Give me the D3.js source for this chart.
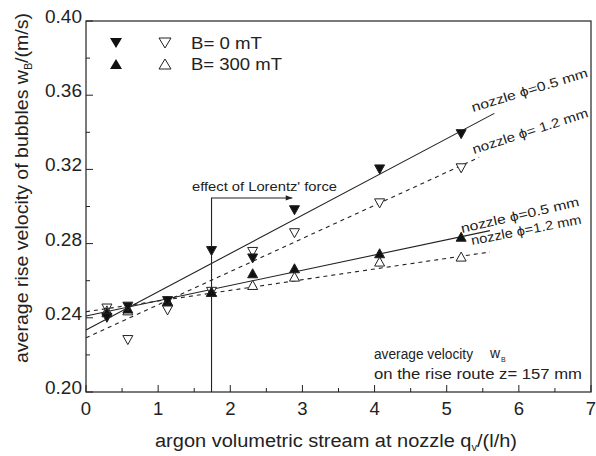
<!DOCTYPE html>
<html><head><meta charset="utf-8">
<script src="https://cdn.jsdelivr.net/npm/d3@7"></script>
<style>body{margin:0;background:#fff}svg text{font-family:"Liberation Sans",Arial,sans-serif;fill:#222}</style>
</head><body><svg id="c" width="596" height="456"></svg>
<script>
// ---- data ----
const flowX = [0.29, 0.58, 1.13, 1.74, 2.31, 2.89, 4.07, 5.20];           // argon stream q_v (l/h)
const vB0_05 = [0.240, 0.246, 0.249, 0.276, 0.272, 0.298, 0.320, 0.339];   // ▼ B=0 mT, nozzle 0.5 mm
const vB0_12 = [0.245, 0.228, 0.244, 0.254, 0.2755, 0.2856, 0.3017, 0.3206]; // ▽ B=0 mT, nozzle 1.2 mm
const vB300_05 = [0.243, 0.245, 0.249, 0.254, 0.264, 0.2667, 0.2748, 0.2837]; // ▲ B=300 mT, nozzle 0.5 mm
const vB300_12 = [0.244, 0.244, 0.249, 0.254, 0.2577, 0.2622, 0.2703, 0.2730]; // △ B=300 mT, nozzle 1.2 mm
// fitted lines: [x start, v start, x end, v end]
const fitB0_05 = [0, 0.2334, 5.66, 0.3502];
const fitB0_12 = [0, 0.2292, 5.45, 0.3265];
const fitB300_05 = [0, 0.2410, 5.60, 0.2870];
const fitB300_12 = [0, 0.2433, 5.60, 0.2755];
const xTicks = [0,1,2,3,4,5,6,7];
const yTicks = [0.20,0.24,0.28,0.32,0.36,0.40];
const lorentzX = 1.74, lorentzTopV = 0.3046, lorentzArrowX = 2.86;

// ---- scales ----
const svg = d3.select("#c");
const x = d3.scaleLinear().domain([0,7]).range([86,591]);
const y = d3.scaleLinear().domain([0.20,0.40]).range([392,21]);

// frame
svg.append("rect").attr("x",86).attr("y",21).attr("width",505).attr("height",371)
  .attr("fill","none").attr("stroke","#222").attr("stroke-width",1.2);

// axes (inward ticks)
const gx = svg.append("g");
xTicks.forEach(t=>{
  gx.append("line").attr("x1",x(t)).attr("x2",x(t)).attr("y1",392).attr("y2",385).attr("stroke","#222");
  gx.append("text").attr("x",x(t)).attr("y",415).attr("text-anchor","middle").attr("font-size",18.5).text(t);
});
d3.range(0.5,7,1).forEach(t=>{
  gx.append("line").attr("x1",x(t)).attr("x2",x(t)).attr("y1",392).attr("y2",388).attr("stroke","#222");
});
const gy = svg.append("g");
yTicks.forEach(t=>{
  gy.append("line").attr("x1",86).attr("x2",93).attr("y1",y(t)).attr("y2",y(t)).attr("stroke","#222");
  gy.append("text").attr("x",82).attr("y",y(t)+2).attr("text-anchor","end").attr("font-size",19).text(t.toFixed(2));
});
[0.22,0.26,0.30,0.34,0.38].forEach(t=>{
  gy.append("line").attr("x1",86).attr("x2",90).attr("y1",y(t)).attr("y2",y(t)).attr("stroke","#222");
});

// axis titles
const xt = svg.append("text").attr("x",155).attr("y",447).attr("font-size",18)
  .attr("textLength",362).attr("lengthAdjust","spacingAndGlyphs");
xt.append("tspan").text("argon volumetric stream at nozzle q");
xt.append("tspan").attr("font-size",10).attr("dy",4).text("v");
xt.append("tspan").attr("dy",-4).text("/(l/h)");
const yt = svg.append("text").attr("transform","translate(28,363) rotate(-90)").attr("font-size",18)
  .attr("textLength",350).attr("lengthAdjust","spacingAndGlyphs");
yt.append("tspan").text("average rise velocity of bubbles w");
yt.append("tspan").attr("font-size",10).attr("dy",4).text("B");
yt.append("tspan").attr("dy",-4).text("/(m/s)");

// fit lines
const fits = [[fitB0_05,null],[fitB0_12,"4,4"],[fitB300_05,null],[fitB300_12,"4,4"]];
fits.forEach(([f,d])=>{
  svg.append("line").attr("x1",x(f[0])).attr("y1",y(f[1])).attr("x2",x(f[2])).attr("y2",y(f[3]))
    .attr("stroke","#222").attr("stroke-width",1.1).attr("stroke-dasharray",d);
});

// Lorentz annotation
svg.append("defs").append("marker").attr("id","ah").attr("viewBox","0 0 10 10").attr("refX",10).attr("refY",5)
  .attr("markerWidth",8).attr("markerHeight",6).attr("orient","auto")
  .append("path").attr("d","M0,1L10,5L0,9Z").attr("fill","#222");
svg.append("path").attr("d",`M${x(lorentzX)},${y(0.20)}V${y(lorentzTopV)}H${x(lorentzArrowX)}`)
  .attr("fill","none").attr("stroke","#222").attr("stroke-width",1.1).attr("marker-end","url(#ah)");
svg.append("text").attr("x",192).attr("y",191).attr("font-size",13)
  .attr("textLength",145).attr("lengthAdjust","spacingAndGlyphs").text("effect of Lorentz' force");

// markers
function tri(cx,cy,w,h,down){
  return down ? `M${cx-w/2},${cy-h/2}L${cx+w/2},${cy-h/2}L${cx},${cy+h/2}Z`
              : `M${cx-w/2},${cy+h/2}L${cx+w/2},${cy+h/2}L${cx},${cy-h/2}Z`;
}
const series = [[vB0_12,true,false],[vB300_12,false,false],[vB300_05,false,true],[vB0_05,true,true]];
series.forEach(([vals,down,filled])=>{
  svg.append("g").selectAll("path").data(vals).join("path")
    .attr("d",(v,i)=>tri(x(flowX[i]),y(v),10,9,down))
    .attr("fill",filled?"#111":"#fff").attr("stroke","#222").attr("stroke-width",1);
});

// legend
svg.append("path").attr("d",tri(116,43,12,10,true)).attr("fill","#111");
svg.append("path").attr("d",tri(165,43,12,10,true)).attr("fill","#fff").attr("stroke","#222");
svg.append("text").attr("x",191).attr("y",49).attr("font-size",16)
  .attr("textLength",71).attr("lengthAdjust","spacingAndGlyphs").text("B= 0 mT");
svg.append("path").attr("d",tri(116,64,12,10,false)).attr("fill","#111");
svg.append("path").attr("d",tri(165,64,12,10,false)).attr("fill","#fff").attr("stroke","#222");
svg.append("text").attr("x",191).attr("y",70).attr("font-size",16)
  .attr("textLength",91).attr("lengthAdjust","spacingAndGlyphs").text("B= 300 mT");

// line labels
const labs = [[473,112,-17,121,"nozzle  ϕ=0.5 mm"],[474,154,-18,121,"nozzle ϕ= 1.2 mm"],[462,233,-13,121,"nozzle ϕ=0.5 mm"],[472,245,-11,112,"nozzle ϕ=1.2 mm"]];
labs.forEach(([lx,ly,a,len,t])=>{
  svg.append("text").attr("transform",`translate(${lx},${ly}) rotate(${a})`).attr("font-size",13)
    .attr("textLength",len).attr("lengthAdjust","spacingAndGlyphs").text(t);
});

// bottom-right note
svg.append("text").attr("x",374).attr("y",359).attr("font-size",14)
  .attr("textLength",99).attr("lengthAdjust","spacingAndGlyphs").text("average velocity");
svg.append("text").attr("x",490).attr("y",358).attr("font-size",14).text("w");
svg.append("text").attr("x",501).attr("y",362).attr("font-size",7).text("B");
svg.append("text").attr("x",374).attr("y",379).attr("font-size",14)
  .attr("textLength",208).attr("lengthAdjust","spacingAndGlyphs").text("on the rise route  z= 157 mm");
</script></body></html>
